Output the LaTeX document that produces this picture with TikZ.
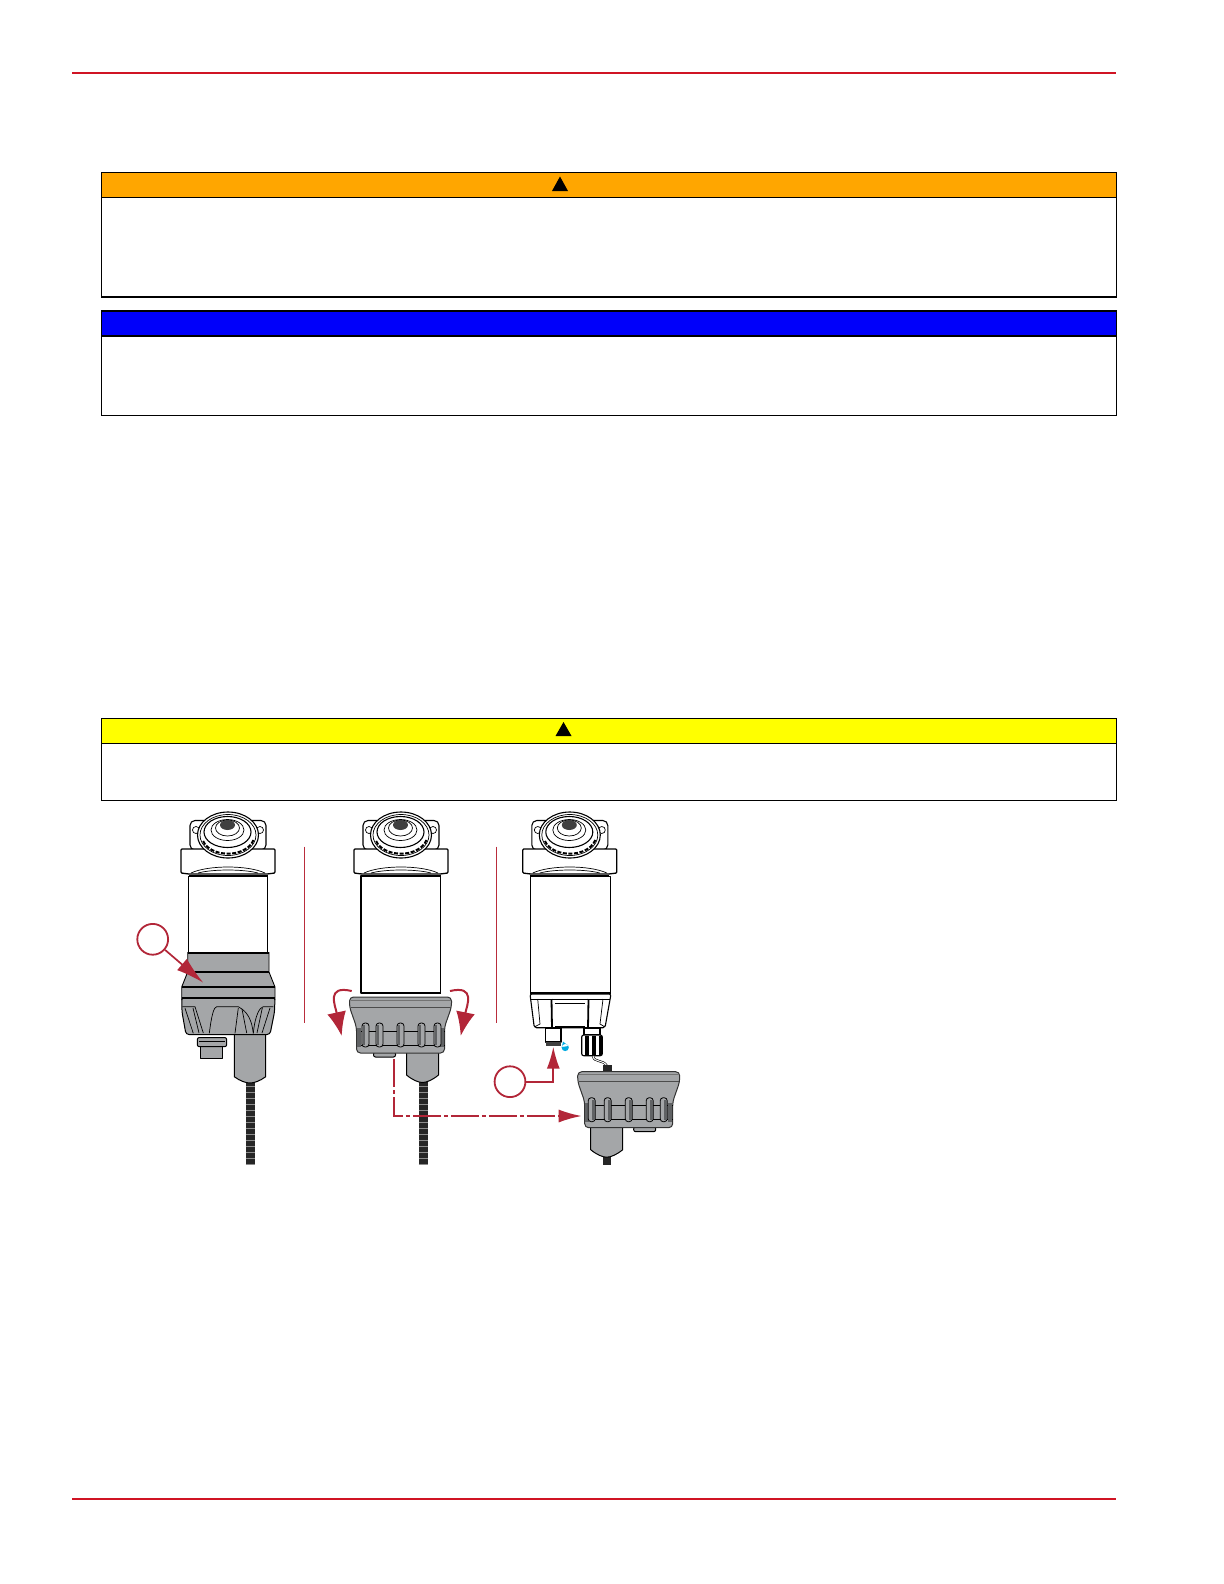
\documentclass[tikz,border=0pt]{standalone}
\usepackage{xcolor}
\usepackage{tikz}
\usetikzlibrary{arrows.meta,positioning,calc}
\definecolor{rulered}{RGB}{208,20,36}
\definecolor{calloutred}{RGB}{178,38,56}
\definecolor{sepred}{RGB}{185,45,60}
\definecolor{bodygray}{RGB}{164,166,168}
\definecolor{ribgray}{RGB}{96,98,100}
\definecolor{cautionorange}{RGB}{255,166,0}
\definecolor{noticeblue}{RGB}{0,0,250}
\definecolor{warnyellow}{RGB}{255,255,0}
\definecolor{dropblue}{RGB}{0,170,225}
\tikzset{
    noticebox/.style={
        draw=black,
        line width=0.8pt,
        fill=white,
        anchor=north west,
        inner sep=0pt,
        minimum width=507.5pt
    },
    noticehead/.style={
        noticebox,
        minimum height=12.5pt
    },
    whitepart/.style={
        draw=black,
        fill=white,
        line width=0.55pt,
        line join=round
    },
    graypart/.style={
        draw=black,
        fill=bodygray,
        line width=0.5pt,
        line join=round
    },
    thinpart/.style={
        draw=black,
        line width=0.35pt
    },
    blackband/.style={
        draw=black,
        line width=1pt
    },
    callout/.style={
        circle,
        draw=calloutred,
        line width=0.9pt,
        fill=white,
        inner sep=0pt,
        minimum size=15.4pt
    },
    calloutarrow/.style={
        -{Latex[length=11pt,width=6.5pt]},
        line width=0.85pt,
        draw=calloutred
    },
    turnarrow/.style={
        -{Latex[length=12pt,width=9.5pt]},
        line width=1pt,
        draw=calloutred
    },
    movearrow/.style={
        -{Latex[length=11.5pt,width=6.5pt]},
        line width=0.9pt,
        draw=calloutred,
        dash pattern=on 14pt off 1.5pt on 2pt off 1.5pt
    },
    filterhead/.pic={
        \draw[whitepart, rounded corners=2.5pt] (-38,850) -- (-38,820.5) -- (38,820.5) -- (38,850) -- cycle;
        \draw[thinpart] (-32,830) circle [radius=3.5];
        \draw[thinpart] (32,830) circle [radius=3.5];
        \draw[whitepart, line width=0.65pt, rounded corners=0.5pt] (-47,849) -- (47,849) -- (47,873) -- (39,874) -- (-39,874) -- (-47,873) -- cycle;
        \draw[thinpart] (-37,873) .. controls (-20,865) and (20,865) .. (37,873);
        \draw[thinpart] (-30,873) .. controls (-15,869) and (15,869) .. (30,873);
        \draw[blackband, line width=1.1pt] (-39.5,876) -- (39.5,876);
        \draw[whitepart] (0,835) ellipse [x radius=30.5, y radius=23];
        \draw[thinpart] (0,835) ellipse [x radius=28, y radius=20.5];
        \draw[line width=1pt, dash pattern=on 2pt off 0.8pt] (25.5,840) arc [start angle=15, end angle=165, x radius=26.4, y radius=18.5];
        \draw[whitepart] (-0.5,832) ellipse [x radius=23.5, y radius=15.5];
        \draw[thinpart] (-0.5,830) ellipse [x radius=16.5, y radius=10.5];
        \draw[thinpart] (-0.5,828) ellipse [x radius=12, y radius=8];
        \fill[black!75] (-0.5,825) ellipse [x radius=7.5, y radius=5];
    },
    filtercap/.pic={
        \draw[graypart, rounded corners=1pt] (-27,55) rectangle (-5,60);
        \draw[graypart] (6,55) -- (6,78) .. controls (12,83) and (18,85.5) .. (22,85.5) .. controls (26,85.5) and (32,83) .. (38,78) -- (38,55) -- cycle;
        \draw[graypart, rounded corners=2pt, draw=black!80] (-51,0) -- (51,0) -- (51,10) -- (44,30) -- (44,56) -- (-44,56) -- (-44,30) -- (-51,10) -- cycle;
        \draw[thinpart, draw=black!70] (-50,10) -- (50,10);
        \draw[line width=0.5pt, draw=black!55] (-50,3) -- (50,3);
        \draw[thinpart] (-44,34) -- (44,34);
        \draw[thinpart] (-44,48) -- (44,48);
        \fill[ribgray] (-43.5,31) rectangle (-39.5,50);
        \fill[ribgray] (39.5,31) rectangle (43.5,50);
        \foreach \ribx in {-35,-21,0,21,37} {
            \draw[draw=black, fill=bodygray, line width=0.4pt, rounded corners=1.5pt] (\ribx-3.5,26) rectangle (\ribx+3.5,50);
            \fill[ribgray] (\ribx-3,28) rectangle (\ribx-0.6,48);
        }
    },
    threadrod/.pic={
        \fill[black!85] (-4.5,1077) rectangle (4.5,1165);
        \foreach \roddy in {1086,1092,...,1164} {
            \draw[black!45, line width=0.25pt] (-4.5,\roddy) -- (4.5,\roddy);
        }
    }
}
\begin{document}
\begin{tikzpicture}[x=0.5pt,y=-0.5pt]
    \useasboundingbox (0,0) rectangle (1224,1584);
    \fill[white] (0,0) rectangle (1224,1584);

    \draw[rulered, line width=1pt] (72,72.7) -- (1116,72.7);
    \draw[rulered, line width=1pt] (72,1498.7) -- (1116,1498.7);

    \node[noticebox, minimum height=62.4pt] (cautionbox) at (100.5,171.5) {};
    \node[noticehead, fill=cautionorange] (cautionhead) at (100.5,171.5) {};
    \fill[black] (560,176.5) -- (568,191) -- (552,191) -- cycle;
    \node[noticebox, minimum height=52.3pt] (noticebody) at (100.5,310) {};
    \node[noticehead, fill=noticeblue] (noticehead) at (100.5,310) {};
    \node[noticebox, minimum height=41pt] (warnbox) at (100.5,717.5) {};
    \node[noticehead, fill=warnyellow] (warnhead) at (100.5,717.5) {};
    \fill[black] (563.5,722) -- (571.5,736) -- (555.5,736) -- cycle;

    \draw[sepred, line width=0.7pt] (304.5,846.7) -- (304.5,1023);
    \draw[sepred, line width=0.7pt] (496.5,846.7) -- (496.5,1023);

    \pic at (250,0) {threadrod};
    \draw[graypart] (234.3,1030) -- (234.3,1076.7) .. controls (240,1081) and (246,1083) .. (250,1083) .. controls (254,1083) and (260,1081) .. (265.7,1076.7) -- (265.7,1030) -- cycle;
    \draw[graypart] (200.7,1046) rectangle (222.7,1058);
    \draw[graypart, rounded corners=1pt] (197.3,1037.5) rectangle (226.7,1046.7);
    \draw[thinpart] (199,1041) -- (225,1041);
    \draw[whitepart, line width=0.35pt] (188.3,876) rectangle (267.7,952);
    \draw[graypart, rounded corners=1.5pt] (181.7,997) -- (275,997) -- (274.5,1012) -- (270,1034.5) -- (186,1034.5) -- (182,1012) -- cycle;
    \draw[thinpart] (182.3,1006.7) -- (195,1006.7) -- (203.3,1033);
    \draw[thinpart] (185,1008.3) -- (193.3,1033.3);
    \draw[thinpart] (193,1008) -- (199,1033);
    \draw[thinpart] (209.3,1033.3) .. controls (211.7,1014) and (214,1007) .. (216.7,1006.7) -- (238.3,1006.7) .. controls (248,1012) and (251.7,1020) .. (253.3,1033.3);
    \draw[thinpart] (238.3,1008) -- (235,1033.3);
    \draw[thinpart] (242,1009) -- (246.7,1033);
    \draw[thinpart] (253.3,1033.3) .. controls (255,1015) and (260,1007) .. (263.3,1006.7) -- (273.3,1006.7);
    \draw[thinpart] (262.3,1008) -- (257,1033);
    \draw[thinpart] (270,1008) -- (262,1033);
    \fill[bodygray] (187.7,953) -- (269,953) -- (269,972) -- (275,987) -- (275,998) -- (181.7,998) -- (181.7,987) -- (187.7,972) -- cycle;
    \draw[thinpart, line width=0.45pt] (187.7,952) -- (187.7,972) -- (181.7,987) -- (181.7,1000);
    \draw[thinpart, line width=0.45pt] (269,952) -- (269,972) -- (275,987) -- (275,1000);
    \draw[blackband] (187.7,952.5) -- (269,952.5);
    \draw[line width=0.8pt] (187.7,971.7) -- (269,971.7);
    \draw[line width=0.7pt] (181.7,987) -- (275,987);
    \draw[blackband] (181.7,998) -- (275,998);
    \pic at (228,0) {filterhead};

    \pic at (423,0) {threadrod};
    \draw[whitepart] (361,876) rectangle (440.7,993);
    \draw[blackband] (361,993) -- (440.7,993);
    \pic at (400.5,997) {filtercap};
    \pic at (401,0) {filterhead};

    \draw[whitepart, line width=0.35pt] (530,876) rectangle (610,992);
    \draw[blackband] (530,992.5) -- (610.5,992.5);
    \draw[whitepart, rounded corners=1pt] (530,994) -- (611,994) -- (605,1027.7) -- (534.3,1027.7) -- cycle;
    \draw[thinpart] (531,999) -- (610,999);
    \draw[thinpart] (537.7,999) -- (540,1024) -- (534.3,1027);
    \draw[thinpart] (603,999) -- (600,1024) -- (605,1027);
    \draw[line width=0.9pt] (551.5,999) -- (552,1028);
    \draw[line width=0.9pt] (588.5,999) -- (588,1028);
    \draw[thinpart] (555,1003) -- (585,1003);
    \draw[thinpart] (555,1026) -- (585,1026);
    \draw[whitepart] (545.7,1028) rectangle (561,1042);
    \fill[black!75] (545.7,1041.7) rectangle (561,1046);
    \fill[dropblue] (565.2,1047.5) circle [radius=3.6] (563,1041.5) -- (561.8,1047) -- (568.6,1046) -- cycle;
    \draw[whitepart] (584,1028) rectangle (600,1035);
    \draw[whitepart, rounded corners=1pt] (581.7,1035) rectangle (602.3,1055.7);
    \foreach \knobx in {587,594,600.5} {
        \fill[black] (\knobx-1.8,1036) rectangle (\knobx+1.8,1055);
    }
    \draw[line width=1.1pt] (593,1056) .. controls (594,1063) and (603,1059) .. (607,1066);
    \draw[white, line width=0.5pt] (593,1056) .. controls (594,1063) and (603,1059) .. (607,1066);
    \fill[black!85] (603.3,1064.5) rectangle (612,1072);
    \fill[black!85] (603.3,1153) rectangle (610.7,1165);
    \pic[xscale=-1] at (628.7,1071.7) {filtercap};
    \pic at (569.8,0) {filterhead};

    \node[callout] (calla) at (152.7,939.3) {};
    \coordinate (callatip) at (203.3,982.7);
    \draw[calloutarrow, -{Latex[length=14pt,width=7.5pt]}] (calla) -- (callatip);
    \node[callout] (callb) at (510,1081.7) {};
    \coordinate (callbtip) at (553.3,1046.7);
    \draw[calloutarrow] (callb) -| (callbtip);

    \coordinate (turnlstart) at (351.7,991);
    \coordinate (turnltip) at (341.7,1036);
    \coordinate (turnrstart) at (450,991);
    \coordinate (turnrtip) at (460.7,1036);
    \draw[turnarrow] (turnlstart) .. controls (326,985) and (335,1005) .. (turnltip);
    \draw[turnarrow] (turnrstart) .. controls (476,985) and (467,1005) .. (turnrtip);

    \coordinate (movestart) at (393.8,1059);
    \coordinate (movetip) at (581.7,1116);
    \draw[movearrow] (movestart) |- (movetip);
\end{tikzpicture}
\end{document}
